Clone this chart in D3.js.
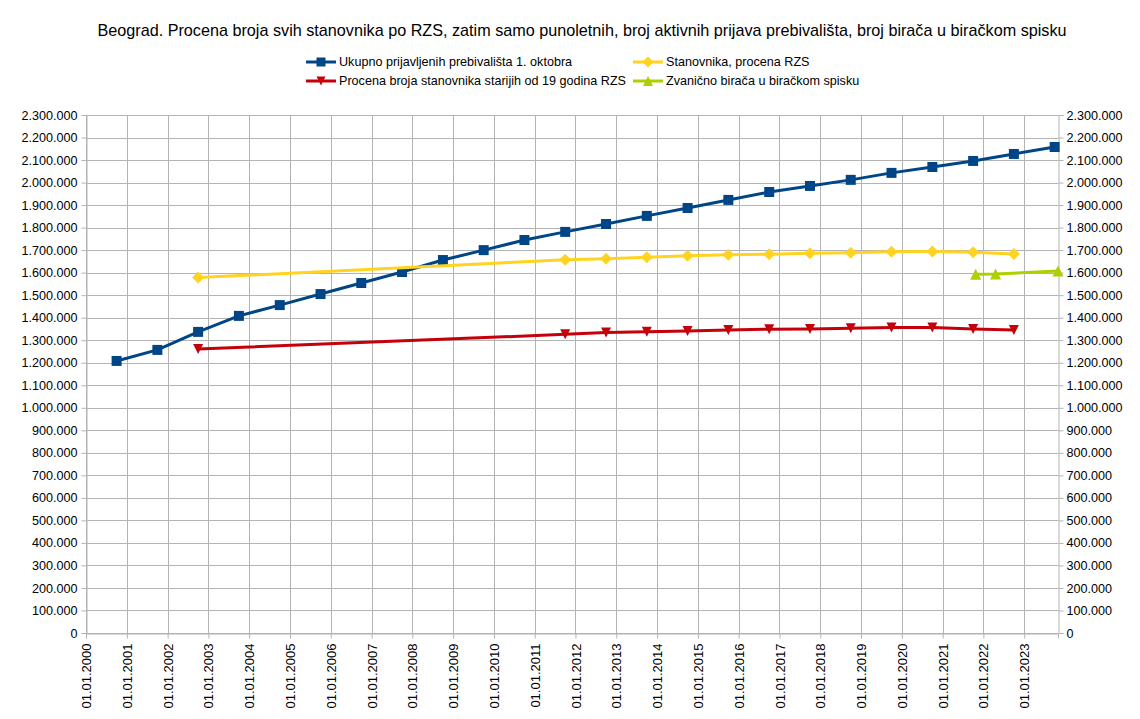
<!DOCTYPE html>
<html><head><meta charset="utf-8">
<script src="https://cdn.jsdelivr.net/npm/d3@7"></script>
<style>
html,body{margin:0;padding:0;background:#fff;}
svg{display:block;font-family:"Liberation Sans",Arial,sans-serif;}
</style></head>
<body><svg id="chart" width="1140" height="719"></svg>
<script>
// ---------- data ----------
const titleText = "Beograd. Procena broja svih stanovnika po RZS, zatim samo punoletnih, broj aktivnih prijava prebivališta, broj birača u biračkom spisku";

const blueDates = ["2000-10-01","2001-10-01","2002-10-01","2003-10-01","2004-10-01","2005-10-01","2006-10-01","2007-10-01","2008-10-01","2009-10-01","2010-10-01","2011-10-01","2012-10-01","2013-10-01","2014-10-01","2015-10-01","2016-10-01","2017-10-01","2018-10-01","2019-10-01","2020-10-01","2021-10-01","2022-10-01","2023-10-01"];
const blueValues = [1208000,1257000,1337000,1408000,1456000,1505000,1554000,1603000,1656000,1700000,1745000,1781000,1816000,1852000,1887000,1923000,1958000,1985000,2012000,2043000,2069000,2096000,2127000,2158000];

const estDates = ["2002-10-01","2011-10-01","2012-10-01","2013-10-01","2014-10-01","2015-10-01","2016-10-01","2017-10-01","2018-10-01","2019-10-01","2020-10-01","2021-10-01","2022-10-01"];
const yellowValues = [1578000,1657000,1662000,1668000,1675000,1679000,1682000,1686000,1688000,1693000,1694000,1691000,1683000];
const redValues = [1261000,1326000,1334000,1338000,1341000,1345000,1349000,1350000,1353000,1356000,1356000,1350000,1345000];

const greenDates = ["2021-10-24","2022-04-20","2023-10-31"];
const greenValues = [1593000,1594000,1607000];

const xStart = "2000-01-01";
const yMax = 2300000;
const yTickStep = 100000;

const seriesNames = ["Ukupno prijavljenih prebivališta 1. oktobra","Stanovnika, procena RZS","Procena broja stanovnika starijih od 19 godina RZS","Zvanično birača u biračkom spisku"];
const seriesColors = ["#004586","#ffd320","#c5000b","#aecf00"];
const seriesSymbols = ["square","diamond","triangleDown","triangleUp"];

// ---------- build ----------
const parse = d3.timeParse("%Y-%m-%d");
const zip = (ds, vs) => ds.map((d,i)=>({date:parse(d), value:vs[i]}));
const series = [
  {data: zip(blueDates, blueValues)},
  {data: zip(estDates, yellowValues)},
  {data: zip(estDates, redValues)},
  {data: zip(greenDates, greenValues)}
].map((s,i)=>Object.assign(s,{name:seriesNames[i],color:seriesColors[i],symbol:seriesSymbols[i]}));

const svg = d3.select("#chart");
const W = 1140, H = 719;
const m = {left:86, right:1140-1058, top:115, bottom:719-633};

const allDates = series.flatMap(s=>s.data.map(d=>d.date));
const x = d3.scaleTime()
  .domain([parse(xStart), d3.max(allDates)])
  .range([m.left, W-m.right]);
const y = d3.scaleLinear().domain([0,yMax]).range([H-m.bottom, m.top]);

const loc = d3.formatLocale({decimal:",", thousands:".", grouping:[3], currency:["",""]});
const fmtY = loc.format(",d");
const fmtX = d3.timeFormat("%d.%m.%Y");

const yTicks = d3.range(0, yMax+1, yTickStep);
const xTicks = d3.timeYear.range(parse(xStart), d3.timeDay.offset(x.domain()[1],1));

const gridColor = "#b3b3b3";

// grid
const grid = svg.append("g");
grid.selectAll("line.h").data(yTicks).join("line")
  .attr("x1", m.left).attr("x2", W-m.right)
  .attr("y1", d=>Math.round(y(d))+0.5).attr("y2", d=>Math.round(y(d))+0.5)
  .attr("stroke", gridColor).attr("stroke-width",1);
grid.selectAll("line.v").data(xTicks).join("line")
  .attr("x1", d=>Math.round(x(d))+0.5).attr("x2", d=>Math.round(x(d))+0.5)
  .attr("y1", m.top).attr("y2", H-m.bottom)
  .attr("stroke", gridColor).attr("stroke-width",1);

// axes
const yl = svg.append("g").attr("transform",`translate(${m.left+0.5},0)`)
  .call(d3.axisLeft(y).tickValues(yTicks).tickFormat(fmtY).tickSize(5).tickPadding(4));
const yr = svg.append("g").attr("transform",`translate(${W-m.right+0.5},0)`)
  .call(d3.axisRight(y).tickValues(yTicks).tickFormat(fmtY).tickSize(5).tickPadding(3));
const xb = svg.append("g").attr("transform",`translate(0,${H-m.bottom+0.5})`)
  .call(d3.axisBottom(x).tickValues(xTicks).tickFormat(fmtX).tickSize(5));
xb.selectAll("text")
  .attr("transform","rotate(-90)")
  .attr("text-anchor","end")
  .attr("x",-10).attr("y",0).attr("dy","0.35em");
[yl,yr,xb].forEach(g=>{
  g.selectAll("path.domain").attr("stroke",gridColor);
  g.selectAll(".tick line").attr("stroke",gridColor);
  g.selectAll("text").attr("fill","#000").style("font-family","'Liberation Sans',Arial,sans-serif");
});
yl.selectAll("text").style("font-size","12.6px");
yr.selectAll("text").style("font-size","12.6px");
xb.selectAll("text").style("font-size","13px");

// symbols
function symbolPath(type, s){
  const h = s/2;
  if(type==="square") return `M${-h},${-h}H${h}V${h}H${-h}Z`;
  if(type==="diamond") return `M0,${-h}L${h},0L0,${h}L${-h},0Z`;
  if(type==="triangleDown") return `M${-h},${-h}L${h},${-h}L0,${h}Z`;
  if(type==="triangleUp") return `M${-h},${h}L${h},${h}L0,${-h}Z`;
}
const symSize = {square:10, diamond:12, triangleDown:10, triangleUp:11};

// lines
const line = d3.line().x(d=>x(d.date)).y(d=>y(d.value));
const plot = svg.append("g");
series.forEach(s=>{
  const g = plot.append("g");
  g.append("path").datum(s.data).attr("d",line)
    .attr("fill","none").attr("stroke",s.color).attr("stroke-width",3).attr("stroke-linejoin","round");
  g.selectAll("path.m").data(s.data).join("path").attr("class","m")
    .attr("transform",d=>`translate(${x(d.date)},${y(d.value)})`)
    .attr("d",symbolPath(s.symbol, symSize[s.symbol]))
    .attr("fill",s.color);
});

// title
svg.append("text").attr("x",582).attr("y",36).attr("text-anchor","middle")
  .style("font-size","16.2px").attr("fill","#000").text(titleText);

// legend
const legPos = [[306,62],[633,62],[306,81],[633,81]];
const leg = svg.append("g");
series.forEach((s,k)=>{
  const [lx,ly] = legPos[k];
  const g = leg.append("g").attr("transform",`translate(${lx},${ly})`);
  g.append("line").attr("x1",0).attr("x2",30).attr("y1",0).attr("y2",0)
    .attr("stroke",s.color).attr("stroke-width",3);
  g.append("path").attr("transform","translate(15,0)")
    .attr("d",symbolPath(s.symbol, symSize[s.symbol]-1)).attr("fill",s.color);
  g.append("text").attr("x",33).attr("y",0).attr("dy","0.35em")
    .style("font-size","12.6px").attr("fill","#000").text(s.name);
});
</script></body></html>
